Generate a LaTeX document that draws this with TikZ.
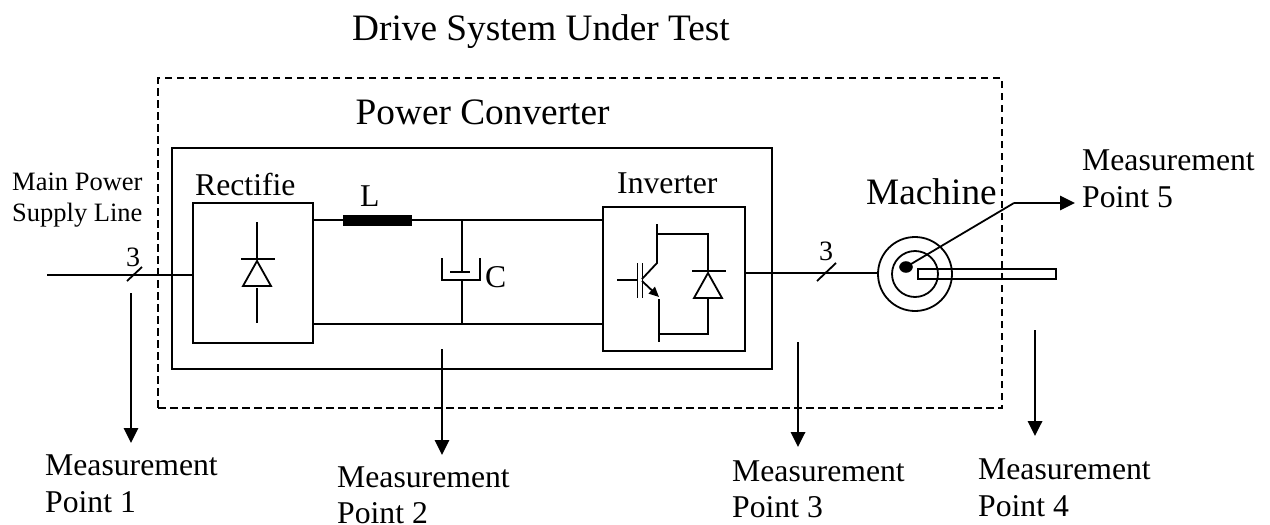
\documentclass[tikz,border=0pt]{standalone}
\usepackage{fontspec}
\setmainfont{Liberation Serif}
\usetikzlibrary{arrows.meta,shapes.geometric}
\tikzset{
  wire/.style={line width=1.8pt},
  boxst/.style={draw,line width=2pt,inner sep=0pt,outer sep=0pt},
  dashbox/.style={draw,line width=1.9pt,dash pattern=on 7.5pt off 4.5pt,inner sep=0pt,outer sep=0pt},
  mparrow/.style={line width=1.8pt,-{Triangle[length=15pt,width=14.5pt]}},
  labelbig/.style={anchor=base west,inner sep=0pt,font=\fontsize{37.3pt}{40pt}\selectfont},
  labelmid/.style={anchor=base west,inner sep=0pt,font=\fontsize{31.7pt}{36pt}\selectfont},
  labelsm/.style={anchor=base west,inner sep=0pt,font=\fontsize{26.5pt}{30pt}\selectfont},
  labelnum/.style={anchor=base west,inner sep=0pt,font=\fontsize{28pt}{30pt}\selectfont},
  circ/.style={circle,draw,line width=1.8pt,inner sep=0pt,outer sep=0pt},
}
\begin{document}
\begin{tikzpicture}[x=1pt,y=-1pt]
\useasboundingbox (0,0) rectangle (1270,525);
% text
\node[labelbig] (title) at (352,40) {Drive System Under Test};
\node[labelbig] (pc) at (355.5,124) {Power Converter};
\node[labelmid] (rect) at (195,195) {Rectifie};
\node[labelmid] (ind) at (360,206) {L};
\node[labelmid] (inv) at (617,193) {Inverter};
\node[labelmid] (cap) at (485,287) {C};
\node[labelbig] (mach) at (866,204) {Machine};
\node[labelsm] (main1) at (12,190) {Main Power};
\node[labelsm] (main2) at (12,221) {Supply Line};
\node[labelnum] (three1) at (126,266) {3};
\node[labelnum] (three2) at (819,260) {3};
\node[labelmid] (m1a) at (45,475) {Measurement};
\node[labelmid] (m1b) at (45,512) {Point 1};
\node[labelmid] (m2a) at (337,487) {Measurement};
\node[labelmid] (m2b) at (337,523) {Point 2};
\node[labelmid] (m3a) at (732,481) {Measurement};
\node[labelmid] (m3b) at (732,517) {Point 3};
\node[labelmid] (m4a) at (978,479) {Measurement};
\node[labelmid] (m4b) at (978,516) {Point 4};
\node[labelmid] (m5a) at (1082,170) {Measurement};
\node[labelmid] (m5b) at (1082,207) {Point 5};
% boxes
\node[dashbox,minimum width=844pt,minimum height=330pt] (dut) at (580,243) {};
\node[boxst,minimum width=600pt,minimum height=221pt] (conv) at (472,258.5) {};
\node[boxst,minimum width=120pt,minimum height=140pt] (rec) at (253,273) {};
\node[boxst,minimum width=142pt,minimum height=144pt] (invb) at (674,279) {};
\node[draw,fill=black,minimum width=68pt,minimum height=10pt,inner sep=0pt,outer sep=0pt] (lcoil) at (377,220) {};
% machine
\node[circ,minimum size=74pt] (outer) at (915,274) {};
\node[circ,minimum size=46pt] (inner) at (915,274) {};
\node[boxst,minimum width=138pt,minimum height=10pt] (shaft) at (987,274) {};
\node[draw,fill=black,ellipse,minimum width=13pt,minimum height=11pt,inner sep=0pt] (dot) at (906,267) {};
% coordinates
\coordinate (in) at (47,275);
\coordinate (busl) at (313,324);
\coordinate (busr) at (603,324);
\coordinate (outl) at (745,273);
\coordinate (elbow) at (1014,203);
\coordinate (tip5) at (1075,203);
% supply and bus wiring
\draw[wire] (in) -- (rec.west |- in);
\draw[wire] (127,281) -- (142,267);
\draw[wire] (rec.east |- lcoil) -- (lcoil.west);
\draw[wire] (lcoil.east) -- (invb.west |- lcoil);
\draw[wire] (busl) -- (busr);
\draw[wire] (outl) -- (outer.west |- outl);
\draw[wire] (817,281) -- (836,263);
% capacitor
\draw[wire] (462,220) -- (462,272);
\draw[wire] (450,272) -- (470,272);
\draw[wire] (442,258) -- (442,280) -- (480,280) -- (480,258);
\draw[wire] (462,280) -- (462,324);
% rectifier diode
\draw[wire] (257,222) -- (257,259);
\draw[wire] (241,259) -- (275,259);
\draw[wire] (257,261) -- (243,286) -- (271,286) -- cycle;
\draw[wire] (257,288) -- (257,323);
% IGBT
\draw[wire] (617,280) -- (637,280);
\draw[wire] (637.5,263) -- (637.5,298);
\draw[wire] (642.5,263) -- (642.5,298);
\draw[wire] (642,279) -- (657,263) -- (657,224);
\draw[wire] (657,234) -- (708,234) -- (708,271);
\draw[wire] (692,271) -- (726,271);
\draw[wire] (708,273) -- (694,298) -- (722,298) -- cycle;
\draw[wire] (708,298) -- (708,334) -- (659,334);
\draw[wire] (659,299) -- (659,342);
\draw[line width=1.8pt,-{Triangle[length=10pt,width=9pt]}] (642,281) -- (659,297);
% measurement arrows
\draw[mparrow] (131,293) -- (131,443);
\draw[mparrow] (442,349) -- (442,455);
\draw[mparrow] (798,342) -- (798,447);
\draw[mparrow] (1035,330) -- (1035,436);
\draw[wire] (dot.center) -- (elbow);
\draw[mparrow] (elbow) -- (tip5);
\end{tikzpicture}
\end{document}
